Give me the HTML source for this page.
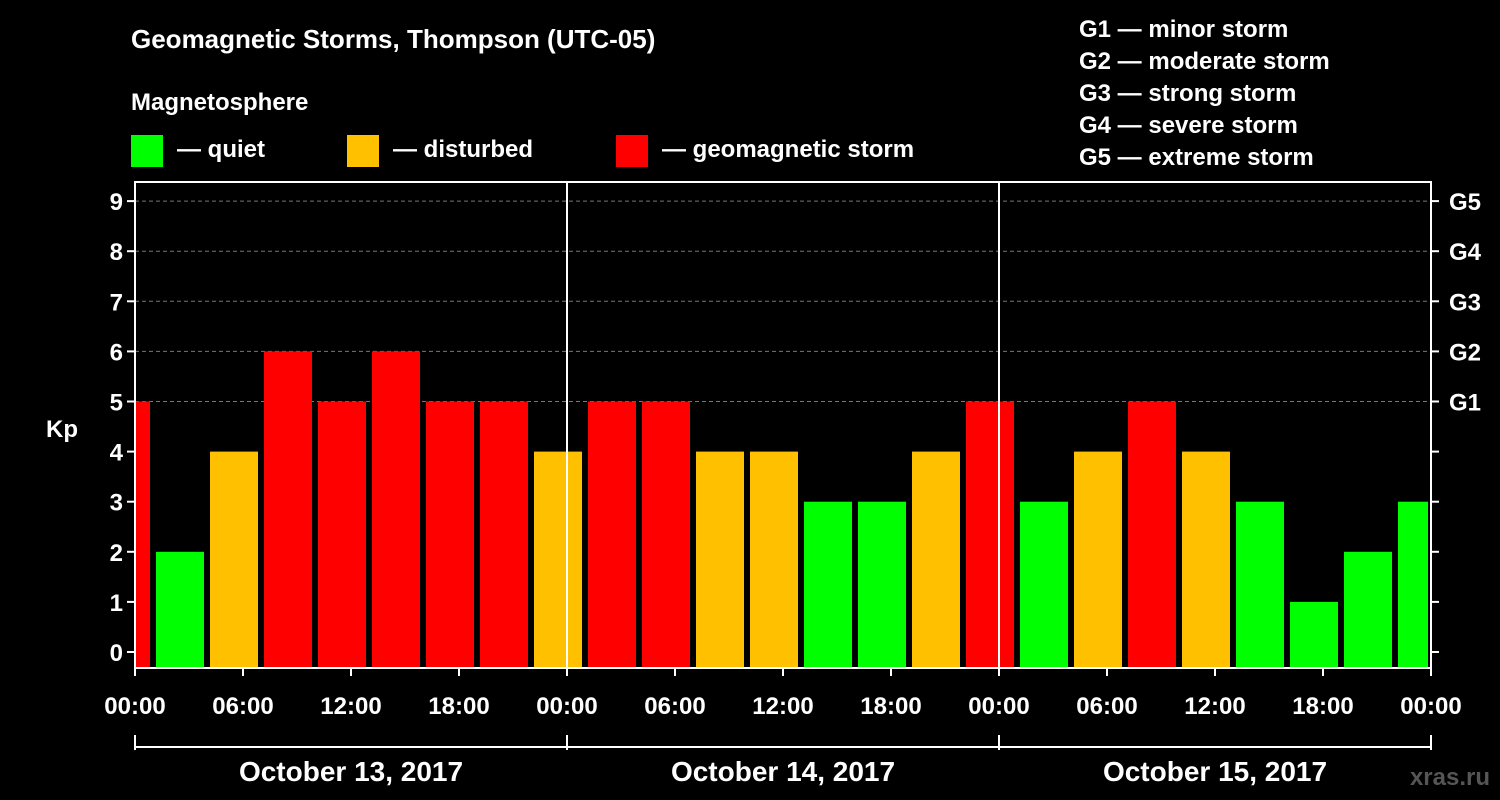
<!DOCTYPE html>
<html><head><meta charset="utf-8">
<style>
html,body{margin:0;padding:0;background:#000;}
svg{display:block;font-family:"Liberation Sans",Arial,sans-serif;font-weight:bold;}
</style></head>
<body>
<svg id="chart" width="1500" height="800" viewBox="0 0 1500 800">
<rect x="0" y="0" width="1500" height="800" fill="#000"/>
<text x="131" y="48" fill="#fff" font-size="26">Geomagnetic Storms, Thompson (UTC-05)</text>
<text x="131" y="110" fill="#fff" font-size="24">Magnetosphere</text>
<g><rect x="131" y="135" width="32" height="32" fill="#00ff00"/><text x="177" y="157" fill="#fff" font-size="24">— quiet</text></g>
<g><rect x="347" y="135" width="32" height="32" fill="#ffc000"/><text x="393" y="157" fill="#fff" font-size="24">— disturbed</text></g>
<g><rect x="616" y="135" width="32" height="32" fill="#ff0000"/><text x="662" y="157" fill="#fff" font-size="24">— geomagnetic storm</text></g>
<g fill="#fff" font-size="24">
<text x="1079" y="37">G1 — minor storm</text>
<text x="1079" y="69">G2 — moderate storm</text>
<text x="1079" y="101">G3 — strong storm</text>
<text x="1079" y="133">G4 — severe storm</text>
<text x="1079" y="165">G5 — extreme storm</text>
</g>
<text x="62" y="437" fill="#fff" font-size="24" text-anchor="middle">Kp</text>
<text x="1490" y="785" fill="#555" font-size="24" text-anchor="end">xras.ru</text>
<g id="grid"></g>
<g id="bars"></g>
<g id="axes"></g>
</svg>
<script>
const kpValues = [5,2,4,6,5,6,5,5,4,5,5,4,4,3,3,4,5,3,4,5,4,3,1,2,3];
const yTicks = [0,1,2,3,4,5,6,7,8,9];
const gLabels = ["G1","G2","G3","G4","G5"];
const xTickLabels = ["00:00","06:00","12:00","18:00","00:00","06:00","12:00","18:00","00:00","06:00","12:00","18:00","00:00"];
const dayLabels = ["October 13, 2017","October 14, 2017","October 15, 2017"];

const NS="http://www.w3.org/2000/svg";
const X0=135, X1=1431, PT=182, PB=668;
const hoursTotal=72;
const xScale=h=>X0+(X1-X0)*h/hoursTotal;
const yScale=k=>652-50.1*k;
function mk(tag,attrs,parent){const e=document.createElementNS(NS,tag);for(const k in attrs)e.setAttribute(k,attrs[k]);parent.appendChild(e);return e;}
const grid=document.getElementById('grid'),bars=document.getElementById('bars'),axes=document.getElementById('axes');

// grid lines at G levels
gLabels.forEach((g,i)=>{
  const y=yScale(5+i);
  const l=mk('line',{x1:X0,x2:X1,y1:y,y2:y,stroke:'#777','stroke-dasharray':'4,3','stroke-width':1},grid);
  
  
});

// bars: first bar starts at -2h (local), each 3h
function color(v){return v>=5?'#ff0000':(v>=4?'#ffc000':'#00ff00');}
kpValues.forEach((v,i)=>{
  const h0=-2+3*i, h1=h0+3;
  let x0=xScale(h0)+3, x1=xScale(h1)-3;
  x0=Math.max(x0,X0); x1=Math.min(x1,X1-3);
  const y=yScale(v);
  const r=mk('rect',{x:x0,y:y,width:x1-x0,height:PB-y,fill:color(v)},bars);
  
  
});

// day separators
[1,2].forEach(d=>{
  const x=xScale(24*d);
  const l=mk('line',{x1:x,x2:x,y1:PT,y2:PB,stroke:'#fff','stroke-width':2},axes);
  
  
});
// frame
const fr=mk('rect',{x:X0,y:PT,width:X1-X0,height:PB-PT,fill:'none',stroke:'#fff','stroke-width':2},axes);



// y ticks
yTicks.forEach(k=>{
  const y=yScale(k);
  mk('line',{x1:X0-8,x2:X0,y1:y,y2:y,stroke:'#fff','stroke-width':2},axes);
  mk('line',{x1:X1,x2:X1+8,y1:y,y2:y,stroke:'#fff','stroke-width':2},axes);
  const t=mk('text',{x:X0-12,y:y+9,fill:'#fff','font-size':24,'text-anchor':'end'},axes);
  t.textContent=k;
  
  
});
gLabels.forEach((g,i)=>{
  const t=mk('text',{x:X1+18,y:yScale(5+i)+9,fill:'#fff','font-size':24},axes);
  t.textContent=g;
  
  
});
// x ticks
xTickLabels.forEach((lab,i)=>{
  const x=xScale(6*i);
  mk('line',{x1:x,x2:x,y1:PB,y2:PB+8,stroke:'#fff','stroke-width':2},axes);
  const t=mk('text',{x:x,y:714,fill:'#fff','font-size':24,'text-anchor':'middle'},axes);
  t.textContent=lab;
  
  
});
// date bracket
mk('line',{x1:X0,x2:X1,y1:747,y2:747,stroke:'#fff','stroke-width':2},axes);
[0,1,2,3].forEach(d=>{const x=xScale(24*d);mk('line',{x1:x,x2:x,y1:735,y2:750,stroke:'#fff','stroke-width':2},axes);});
dayLabels.forEach((lab,i)=>{
  const t=mk('text',{x:xScale(24*i+12),y:781,fill:'#fff','font-size':28,'text-anchor':'middle'},axes);
  t.textContent=lab;
  
  
});
</script>
</body></html>
